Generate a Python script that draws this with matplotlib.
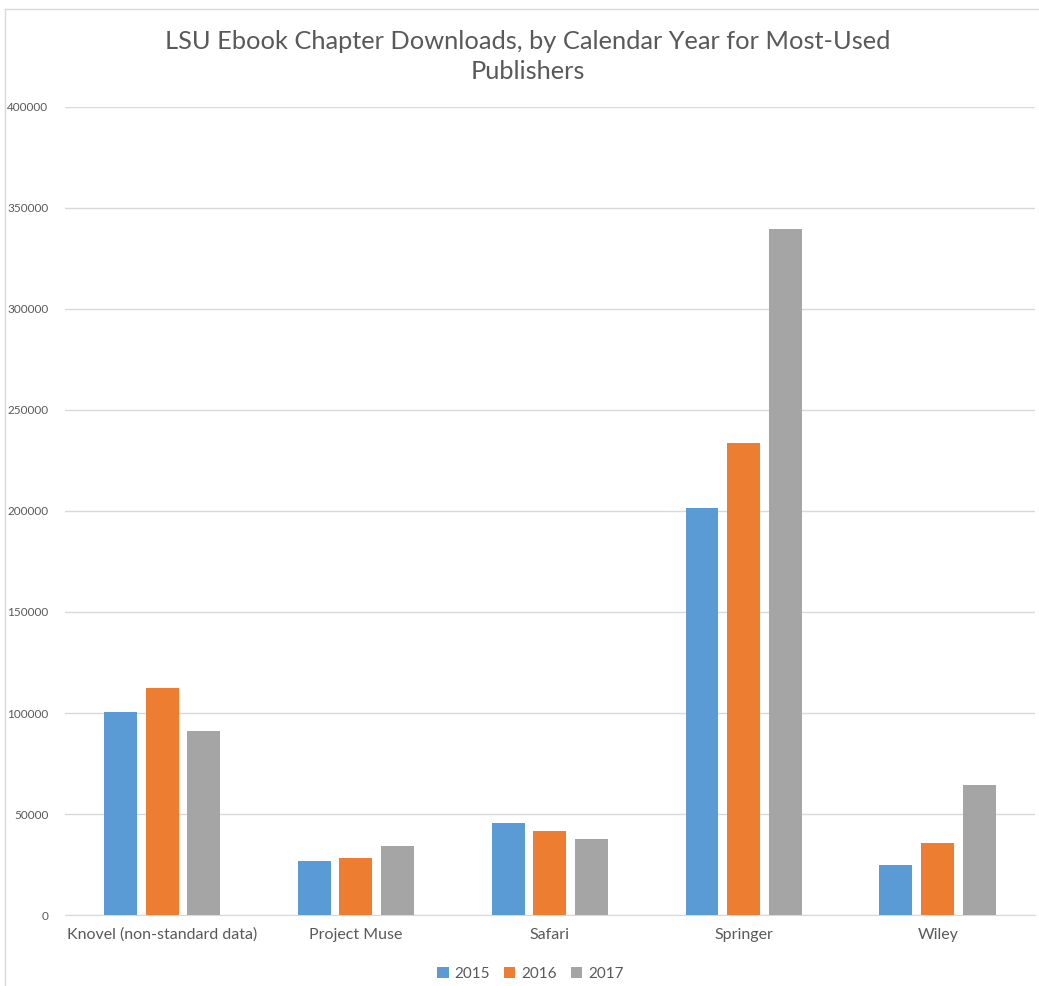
import numpy as np
import matplotlib
matplotlib.use("Agg")
import matplotlib.pyplot as plt
from matplotlib.lines import Line2D

plt.rcParams['font.family'] = ['Lato', 'DejaVu Sans']

# data
publishers = ['Knovel (non-standard data)', 'Project Muse', 'Safari', 'Springer', 'Wiley']
years = ['2015', '2016', '2017']
dl_2015 = [100500, 26500, 45500, 201500, 24700]
dl_2016 = [112300, 28200, 41500, 233700, 35600]
dl_2017 = [91000, 34000, 37600, 339600, 64300]
colors = ['#5B9BD5', '#ED7D31', '#A5A5A5']
yticks = [0, 50000, 100000, 150000, 200000, 250000, 300000, 350000, 400000]

fig = plt.figure(figsize=(10.39, 9.86), dpi=100)
ax = fig.add_axes([0.0626, 0.072, 0.9334, 0.8195])

x = np.arange(len(publishers))
w = 0.17
step = 0.216
for i, (vals, c) in enumerate(zip([dl_2015, dl_2016, dl_2017], colors)):
    ax.bar(x + (i - 1) * step, vals, width=w, color=c, label=years[i], zorder=3)

ax.set_xlim(-0.5, len(publishers) - 0.5)
ax.set_ylim(0, 400000)
ax.set_yticks(yticks)
ax.set_yticklabels([str(t) for t in yticks], fontsize=8.5, color='#595959')
ax.set_xticks(x)
ax.set_xticklabels(publishers, fontsize=11.5, color='#595959')
ax.tick_params(axis='both', length=0)
ax.tick_params(axis='y', pad=12)
ax.tick_params(axis='x', pad=9)
ax.grid(axis='y', color='#D9D9D9', linewidth=1, zorder=0)
for s in ['top', 'right', 'left']:
    ax.spines[s].set_visible(False)
ax.spines['bottom'].set_color('#D9D9D9')

fig.text(0.508, 0.970, 'LSU Ebook Chapter Downloads, by Calendar Year for Most-Used\nPublishers',
         ha='center', va='top', fontsize=18.3, color='#595959', linespacing=1.4)

ax.legend(loc='upper center', bbox_to_anchor=(0.48, -0.047), ncol=3, frameon=False,
          fontsize=11, handlelength=0.75, handleheight=0.75, handletextpad=0.4,
          columnspacing=0.9, labelcolor='#595959')

# light chart-area border (left and top edges visible)
fig.add_artist(Line2D([5 / 1039, 5 / 1039], [0, 1 - 9 / 986], transform=fig.transFigure,
                      color='#D9D9D9', linewidth=1))
fig.add_artist(Line2D([5 / 1039, 1], [1 - 9 / 986, 1 - 9 / 986], transform=fig.transFigure,
                      color='#D9D9D9', linewidth=1))

fig.savefig('out.png', dpi=100)
